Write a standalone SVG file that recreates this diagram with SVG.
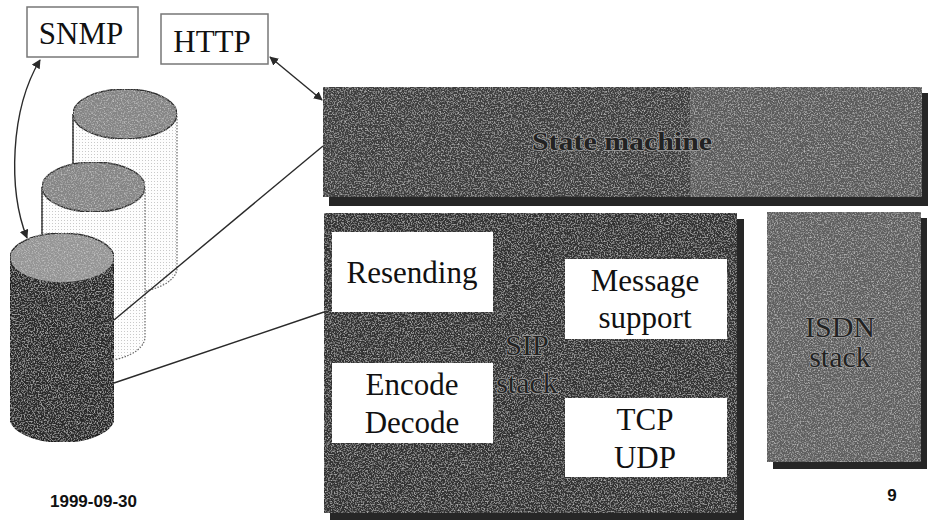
<svg xmlns="http://www.w3.org/2000/svg" width="946" height="528" viewBox="0 0 946 528">
  <defs>
    <style>
      .serif { font-family: "Liberation Serif", "Times New Roman", serif; fill: #111; }
      .label { font-size: 31px; text-anchor: middle; }
      .dim { fill: #222; stroke: #a0a0a0; stroke-width: 1.4; paint-order: stroke; text-anchor: middle; }
      .sans { font-family: "Liberation Sans", Arial, sans-serif; font-weight: bold; font-size: 17px; fill: #111; }
      .tag { fill: #fff; stroke: #777; stroke-width: 1.5; }
      .inner { fill: #fff; }
      .shadow { fill: #262626; }
      .link { fill: none; stroke: #2a2a2a; stroke-width: 1.4; }
      .cap { fill: #858585; stroke: #2e2e2e; stroke-width: 1.4; }
      .ghost { fill: url(#dots); stroke: #666; stroke-width: 1.2; stroke-dasharray: 1.5 1.5; }
      .edge { stroke: #333; stroke-width: 1.4; }
    </style>
    <!-- speckled halftone grain for the shaded blocks -->
    <filter id="grain" x="0" y="0" width="100%" height="100%">
      <feTurbulence type="fractalNoise" baseFrequency="0.7" numOctaves="2" seed="7" result="n"/>
      <feColorMatrix in="n" type="matrix" values="0 0 0 0 0.75  0 0 0 0 0.75  0 0 0 0 0.75  1.6 0 0 0 -0.75" result="w"/>
      <feComposite in="w" in2="SourceGraphic" operator="in" result="spots"/>
      <feMerge><feMergeNode in="SourceGraphic"/><feMergeNode in="spots"/></feMerge>
    </filter>
    <pattern id="dots" width="3" height="3" patternUnits="userSpaceOnUse">
      <rect width="3" height="3" fill="#fdfdfd"/>
      <circle cx="1.5" cy="1.5" r="0.5" fill="#b8b8b8"/>
    </pattern>
    <marker id="tip" viewBox="0 0 10 10" refX="9" refY="5" markerWidth="9" markerHeight="9" markerUnits="userSpaceOnUse" orient="auto-start-reverse">
      <path d="M0,0 L10,5 L0,10 Z" fill="#2a2a2a"/>
    </marker>
  </defs>

  <rect width="946" height="528" fill="#ffffff"/>

  <!-- management interfaces -->
  <g id="snmp">
    <rect class="tag" x="27" y="7" width="111" height="50"/>
    <text class="serif label" x="81" y="44">SNMP</text>
  </g>
  <g id="http">
    <rect class="tag" x="161" y="14" width="107" height="50"/>
    <text class="serif label" x="212" y="52">HTTP</text>
  </g>

  <!-- stacked database cylinders -->
  <g id="db-back">
    <path class="ghost" d="M73,114 L73,268 A52,25 0 0 0 177,268 L177,114 Z"/>
    <line class="edge" x1="73" y1="114" x2="73" y2="165"/>
    <ellipse class="cap" cx="125" cy="114" rx="52" ry="25" filter="url(#grain)"/>
  </g>
  <g id="db-middle">
    <path class="ghost" d="M42,187 L42,337 A51.5,25 0 0 0 145,337 L145,187 Z"/>
    <line class="edge" x1="42" y1="187" x2="42" y2="240"/>
    <ellipse class="cap" cx="93.5" cy="187" rx="51.5" ry="25" filter="url(#grain)"/>
  </g>
  <g id="db-front">
    <path d="M10,258 L10,417 A52,25 0 0 0 114,417 L114,258 Z" fill="#2a2a2a" stroke="#1a1a1a" stroke-width="1.4" filter="url(#grain)"/>
    <ellipse cx="62" cy="258" rx="52" ry="25" fill="#959595" stroke="#2a2a2a" stroke-width="1.4" filter="url(#grain)"/>
  </g>

  <!-- protocol blocks -->
  <g id="state-machine">
    <rect class="shadow" x="329" y="93" width="599" height="113"/>
    <rect x="323" y="87" width="599" height="110" fill="#3c3c3c" filter="url(#grain)"/>
    <rect x="690" y="87" width="232" height="110" fill="#5a5a5a" filter="url(#grain)"/>
    <text class="serif dim" x="622" y="150" font-size="26" font-weight="bold" textLength="180" lengthAdjust="spacingAndGlyphs">State machine</text>
  </g>

  <g id="sip-stack">
    <rect class="shadow" x="330" y="219" width="414" height="301"/>
    <rect x="324" y="213" width="413" height="300" fill="#333333" filter="url(#grain)"/>
    <text class="serif dim" x="527" y="355" font-size="30">SIP</text>
    <text class="serif dim" x="527" y="393" font-size="30">stack</text>
  </g>
  <g id="resending">
    <rect class="inner" x="332" y="232" width="161" height="80"/>
    <text class="serif label" x="412" y="283">Resending</text>
  </g>
  <g id="message-support">
    <rect class="inner" x="565" y="259" width="162" height="80"/>
    <text class="serif label" x="645" y="291">Message</text>
    <text class="serif label" x="645" y="328">support</text>
  </g>
  <g id="encode-decode">
    <rect class="inner" x="332" y="363" width="161" height="80"/>
    <text class="serif label" x="412" y="395">Encode</text>
    <text class="serif label" x="412" y="433">Decode</text>
  </g>
  <g id="tcp-udp">
    <rect class="inner" x="565" y="398" width="162" height="79"/>
    <text class="serif label" x="645" y="430">TCP</text>
    <text class="serif label" x="645" y="468">UDP</text>
  </g>

  <g id="isdn-stack">
    <rect class="shadow" x="773" y="218" width="154" height="251"/>
    <rect x="767" y="212" width="154" height="250" fill="#5e5e5e" filter="url(#grain)"/>
    <text class="serif dim" x="840" y="337" font-size="30">ISDN</text>
    <text class="serif dim" x="840" y="367" font-size="30">stack</text>
  </g>

  <!-- connectors -->
  <g id="connectors">
    <path class="link" d="M40,60 C10,110 8,190 27,238" marker-start="url(#tip)" marker-end="url(#tip)"/>
    <line class="link" x1="270" y1="57" x2="322" y2="100" marker-start="url(#tip)" marker-end="url(#tip)"/>
    <line class="link" x1="114" y1="320" x2="323" y2="146"/>
    <line class="link" x1="114" y1="383" x2="324" y2="312"/>
  </g>

  <!-- footer -->
  <text class="sans" x="50" y="507">1999-09-30</text>
  <text class="sans" x="892" y="501" text-anchor="middle">9</text>
</svg>
